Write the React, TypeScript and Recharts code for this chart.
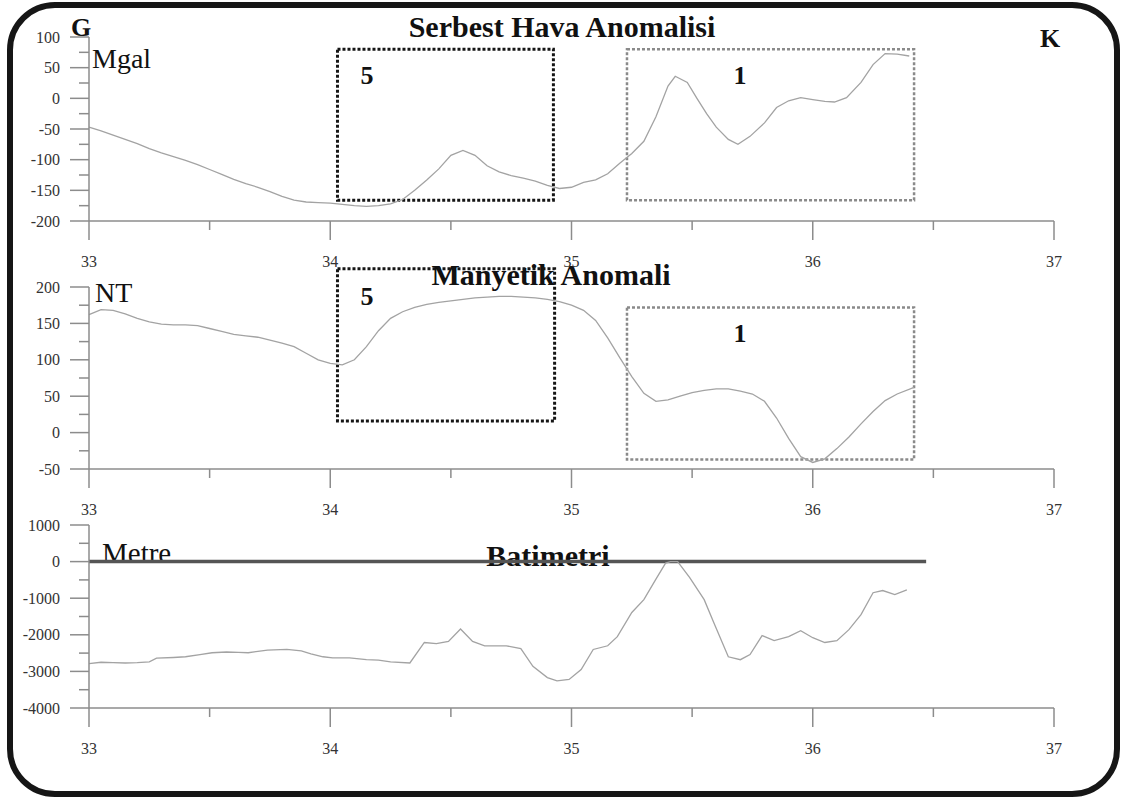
import React from "react";
import { LineChart, Line, XAxis, YAxis, ReferenceArea, ReferenceLine } from "recharts";

const xTicks = [33, 33.5, 34, 34.5, 35, 35.5, 36, 36.5, 37];
const gravTicks = [-200, -175, -150, -125, -100, -75, -50, -25, 0, 25, 50, 75, 100];
const magTicks = [-50, -25, 0, 25, 50, 75, 100, 125, 150, 175, 200];
const bathTicks = [-4000, -3500, -3000, -2500, -2000, -1500, -1000, -500, 0, 500, 1000];

const gravX = [33.0, 33.05, 33.1, 33.15, 33.2, 33.25, 33.3, 33.35, 33.4, 33.45, 33.5, 33.55, 33.6, 33.65, 33.7, 33.75, 33.8, 33.85, 33.9, 33.95, 34.0, 34.05, 34.1, 34.15, 34.2, 34.25, 34.3, 34.35, 34.4, 34.45, 34.5, 34.55, 34.6, 34.65, 34.7, 34.75, 34.8, 34.85, 34.9, 34.95, 35.0, 35.05, 35.1, 35.15, 35.2, 35.25, 35.3, 35.35, 35.4, 35.43, 35.48, 35.52, 35.56, 35.6, 35.65, 35.69, 35.74, 35.8, 35.85, 35.9, 35.95, 36.0, 36.05, 36.09, 36.14, 36.2, 36.25, 36.3, 36.35, 36.4];
const gravY = [-47, -53, -60, -67, -74, -82, -89, -95, -101, -108, -116, -124, -132, -139, -145, -152, -160, -166, -169, -170, -171, -173, -175, -176, -175, -172, -165, -150, -133, -115, -93, -85, -93, -110, -120, -126, -130, -135, -142, -147, -145, -137, -133, -123, -106, -90, -70, -30, 20, 36, 26, 0, -25, -47, -67, -75, -62, -40, -15, -4, 1, -2, -5, -6, 1, 26, 55, 73, 72, 69];

const magX = [33.0, 33.05, 33.1, 33.15, 33.2, 33.25, 33.3, 33.35, 33.4, 33.45, 33.5, 33.55, 33.6, 33.65, 33.7, 33.75, 33.8, 33.85, 33.9, 33.95, 34.0, 34.05, 34.1, 34.15, 34.2, 34.25, 34.3, 34.35, 34.4, 34.45, 34.5, 34.55, 34.6, 34.65, 34.7, 34.75, 34.8, 34.85, 34.9, 34.95, 35.0, 35.05, 35.1, 35.15, 35.2, 35.25, 35.3, 35.35, 35.4, 35.45, 35.5, 35.55, 35.6, 35.65, 35.7, 35.75, 35.8, 35.85, 35.9, 35.95, 36.0, 36.05, 36.1, 36.15, 36.2, 36.25, 36.3, 36.35, 36.42];
const magY = [162, 169, 168, 163, 157, 152, 149, 148, 148, 147, 143, 139, 135, 133, 131, 127, 123, 118, 109, 100, 95, 93, 100, 118, 140, 157, 166, 172, 176, 179, 181, 183, 185, 186, 187, 187, 186, 185, 183, 180, 175, 168, 154, 130, 103, 77, 54, 43, 45, 50, 55, 58, 60, 60, 57, 53, 43, 20, -8, -33, -41, -36, -22, -6, 12, 29, 44, 53, 62];

const bathX = [33.0, 33.05, 33.1, 33.15, 33.2, 33.25, 33.28, 33.35, 33.4, 33.46, 33.51, 33.57, 33.62, 33.66, 33.7, 33.74, 33.82, 33.88, 33.92, 33.97, 34.01, 34.08, 34.15, 34.2, 34.25, 34.33, 34.39, 34.44, 34.49, 34.54, 34.59, 34.64, 34.73, 34.79, 34.84, 34.9, 34.94, 34.99, 35.04, 35.09, 35.15, 35.19, 35.25, 35.3, 35.35, 35.39, 35.41, 35.44, 35.49, 35.55, 35.59, 35.65, 35.7, 35.74, 35.79, 35.84, 35.9, 35.95, 36.0, 36.05, 36.1, 36.15, 36.2, 36.25, 36.29, 36.34, 36.39];
const bathY = [-2790, -2750, -2760, -2770, -2760, -2740, -2640, -2620, -2600, -2540, -2490, -2470, -2480, -2490, -2450, -2420, -2400, -2440, -2520, -2600, -2630, -2630, -2680, -2690, -2740, -2770, -2210, -2240, -2180, -1840, -2180, -2300, -2300, -2380, -2860, -3170, -3260, -3220, -2950, -2400, -2300, -2050, -1390, -1040, -480, -40, 0, 0, -440, -1040, -1670, -2600, -2680, -2540, -2020, -2160, -2050, -1890, -2080, -2210, -2160, -1860, -1450, -850, -790, -900, -770];

const gravData = gravX.map((x, i) => ({ x, y: gravY[i] }));
const magData = magX.map((x, i) => ({ x, y: magY[i] }));
const bathData = bathX.map((x, i) => ({ x, y: bathY[i] }));

const FONT = "'Liberation Serif', 'Times New Roman', serif";
const AXIS = "#8c8c8c";
const LINE = "#a3a3a3";

const XTick = (props: any) => {
  const { x, y, payload } = props;
  const v = payload.value;
  const major = Number.isInteger(v);
  return (
    <g>
      <line x1={x} x2={x} y1={y} y2={y + (major ? 19 : 9)} stroke={AXIS} strokeWidth={1.5} />
      {major && (
        <text x={x} y={y + 40} textAnchor="middle" dominantBaseline="central" fontFamily={FONT} fontSize={16} fill="#333">
          {v}
        </text>
      )}
    </g>
  );
};

const makeYTick = (step: number) => (props: any) => {
  const { x, y, payload } = props;
  const v = payload.value;
  const major = v % step === 0;
  return (
    <g>
      <line x1={x - (major ? 19 : 10)} x2={x} y1={y} y2={y} stroke={AXIS} strokeWidth={1.5} />
      {major && (
        <text x={x - 29} y={y} textAnchor="end" dominantBaseline="central" fontFamily={FONT} fontSize={16} fill="#333">
          {v}
        </text>
      )}
    </g>
  );
};

const gravYTick = makeYTick(50);
const bathYTick = makeYTick(1000);

const box5 = { stroke: "#151515", strokeWidth: 3, strokeDasharray: "3 2", fill: "none" };
const box1 = { stroke: "#8a8a8a", strokeWidth: 2.5, strokeDasharray: "3 2", fill: "none" };

function Panel(props: any) {
  const { data, top, height, mt, yDomain, yTicks, yTick, children } = props;
  return (
    <div style={{ position: "absolute", left: 0, top }}>
      <LineChart width={1121} height={height} data={data} margin={{ top: mt, right: 67, left: 29, bottom: 10 }}>
        <XAxis
          dataKey="x"
          type="number"
          domain={[33, 37]}
          ticks={xTicks}
          interval={0}
          height={50}
          tickSize={0}
          tickMargin={0}
          tickLine={false}
          axisLine={{ stroke: AXIS, strokeWidth: 1.5 }}
          tick={XTick}
        />
        <YAxis
          type="number"
          domain={yDomain}
          ticks={yTicks}
          interval={0}
          width={60}
          tickSize={0}
          tickMargin={0}
          tickLine={false}
          axisLine={{ stroke: AXIS, strokeWidth: 1.5 }}
          tick={yTick}
        />
        {children}
        <Line dataKey="y" type="linear" dot={false} stroke={LINE} strokeWidth={1.3} isAnimationActive={false} />
      </LineChart>
    </div>
  );
}

export default function App() {
  const t = (s: any) => ({ fontFamily: FONT, fill: "#111", ...s });
  return (
    <div style={{ position: "absolute", left: 0, top: 0, width: 1121, height: 800, background: "#fff", overflow: "hidden" }}>
      <svg width={1121} height={800} style={{ position: "absolute", left: 0, top: 0 }}>
        <text x={562} y={37} textAnchor="middle" {...t({ fontSize: 30, fontWeight: "bold" })}>Serbest Hava Anomalisi</text>
        <text x={71} y={36} {...t({ fontSize: 26, fontWeight: "bold" })}>G</text>
        <text x={1040} y={47} {...t({ fontSize: 26, fontWeight: "bold" })}>K</text>
        <text x={92} y={68} {...t({ fontSize: 28 })}>Mgal</text>
        <text x={367} y={84} textAnchor="middle" {...t({ fontSize: 26, fontWeight: "bold" })}>5</text>
        <text x={740} y={84} textAnchor="middle" {...t({ fontSize: 26, fontWeight: "bold" })}>1</text>
        <text x={551} y={285} textAnchor="middle" {...t({ fontSize: 30, fontWeight: "bold" })}>Manyetik Anomali</text>
        <text x={95} y={302} {...t({ fontSize: 28 })}>NT</text>
        <text x={367} y={305} textAnchor="middle" {...t({ fontSize: 26, fontWeight: "bold" })}>5</text>
        <text x={740} y={342} textAnchor="middle" {...t({ fontSize: 26, fontWeight: "bold" })}>1</text>
        <text x={102} y={563} {...t({ fontSize: 29 })}>Metre</text>
        <text x={548} y={566} textAnchor="middle" {...t({ fontSize: 30, fontWeight: "bold" })}>Batimetri</text>
      </svg>

      <Panel data={gravData} top={0} height={281} mt={37} yDomain={[-200, 100]} yTicks={gravTicks} yTick={gravYTick}>
        <ReferenceArea x1={34.03} x2={34.925} y1={-166} y2={80} ifOverflow="visible" {...box5} />
        <ReferenceArea x1={35.23} x2={36.42} y1={-166} y2={80} ifOverflow="visible" {...box1} />
      </Panel>

      <Panel data={magData} top={250} height={279} mt={37} yDomain={[-50, 200]} yTicks={magTicks} yTick={gravYTick}>
        <ReferenceArea x1={34.03} x2={34.93} y1={16} y2={225} ifOverflow="visible" {...box5} />
        <ReferenceArea x1={35.23} x2={36.42} y1={-37} y2={172} ifOverflow="visible" {...box1} />
      </Panel>

      <Panel data={bathData} top={490} height={278} mt={35} yDomain={[-4000, 1000]} yTicks={bathTicks} yTick={bathYTick}>
        <ReferenceLine
          segment={[{ x: 33, y: 0 }, { x: 36.47, y: 0 }]}
          stroke="#555"
          strokeWidth={3.5}
          ifOverflow="visible"
        />
      </Panel>

      <div
        style={{
          position: "absolute",
          left: 7,
          top: 2,
          width: 1113,
          height: 795,
          boxSizing: "border-box",
          border: "6px solid #161616",
          borderRadius: 48,
          pointerEvents: "none",
        }}
      />
    </div>
  );
}
